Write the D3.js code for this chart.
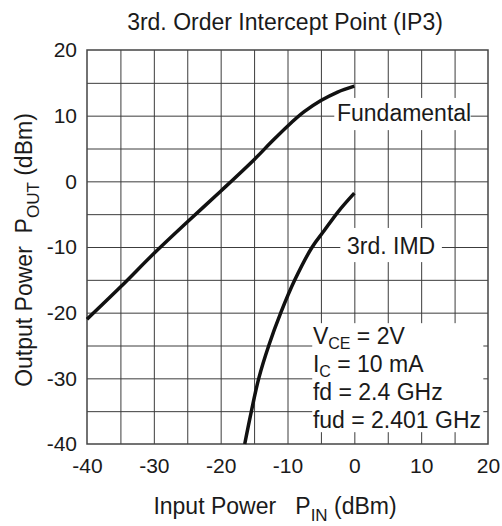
<!DOCTYPE html>
<html>
<head>
<meta charset="utf-8">
<script src="https://cdn.jsdelivr.net/npm/d3@7"></script>
<style>
  body { margin: 0; background: #fff; }
  text { font-family: "Liberation Sans", Arial, sans-serif; fill: #1a1a1a; }
</style>
</head>
<body>
<script>
// data
const fundIn  = [-40, -35, -30, -25, -20, -15, -12.5, -10, -7.5, -5, -2.5, 0];
const fundOut = [-21, -16.1, -11, -6.2, -1.5, 3.3, 5.9, 8.4, 10.6, 12.3, 13.6, 14.5];

const imdIn  = [-16.4, -15.4, -14.3, -12.8, -11.0, -8.9, -6.3, -4.5, -2.4, 0];
const imdOut = [-40, -35, -30, -25, -20, -15, -10, -7.5, -4.6, -1.8];

const xTicks = [-40, -30, -20, -10, 0, 10, 20];
const yTicks = [-40, -30, -20, -10, 0, 10, 20];
const gridStep = [-35, -30, -25, -20, -15, -10, -5, 0, 5, 10, 15];

const conditions = [
  ['V', 'CE', ' = 2V'],
  ['I', 'C', ' = 10 mA'],
  ['fd = 2.4 GHz', '', ''],
  ['fud = 2.401 GHz', '', '']
];

const W = 502, H = 526;
const plot = {left: 87, right: 488, top: 50, bottom: 444};

const svg = d3.select('body').append('svg')
  .attr('width', W)
  .attr('height', H);

const x = d3.scaleLinear().domain([-40, 20]).range([plot.left, plot.right]);
const y = d3.scaleLinear().domain([-40, 20]).range([plot.bottom, plot.top]);

// grid
svg.append('g')
  .attr('transform', `translate(0,${plot.bottom})`)
  .call(d3.axisBottom(x).tickValues(gridStep).tickSize(-(plot.bottom - plot.top)).tickFormat(''))
  .call(g => g.select('.domain').remove())
  .call(g => g.selectAll('line').attr('stroke', '#3c3c3c').attr('stroke-width', 1));

svg.append('g')
  .attr('transform', `translate(${plot.left},0)`)
  .call(d3.axisLeft(y).tickValues(gridStep).tickSize(-(plot.right - plot.left)).tickFormat(''))
  .call(g => g.select('.domain').remove())
  .call(g => g.selectAll('line').attr('stroke', '#3c3c3c').attr('stroke-width', 1));

// white boxes behind the labels
const boxes = [
  {x0: -3.0, x1: 17.4, y0: 12.7, y1: 7.8},    // Fundamental
  {x0: -2.1, x1: 13.1, y0: -7.1, y1: -12.3},  // 3rd. IMD
  {x0: -6.3, x1: 19.3, y0: -21.6, y1: -38.2}  // conditions
];
svg.selectAll('.box').data(boxes).enter()
  .append('rect')
  .attr('class', 'box')
  .attr('x', d => x(d.x0))
  .attr('y', d => y(d.y0))
  .attr('width', d => x(d.x1) - x(d.x0))
  .attr('height', d => y(d.y1) - y(d.y0))
  .attr('fill', '#fff');

// plot border
svg.append('rect')
  .attr('x', plot.left)
  .attr('y', plot.top)
  .attr('width', plot.right - plot.left)
  .attr('height', plot.bottom - plot.top)
  .attr('fill', 'none')
  .attr('stroke', '#444')
  .attr('stroke-width', 1.5);

// curves
const line = d3.line()
  .x(d => x(d[0]))
  .y(d => y(d[1]))
  .curve(d3.curveCatmullRom.alpha(0.5));

svg.append('path')
  .datum(d3.zip(fundIn, fundOut))
  .attr('d', line)
  .attr('fill', 'none')
  .attr('stroke', '#111')
  .attr('stroke-width', 3.5);

svg.append('path')
  .datum(d3.zip(imdIn, imdOut))
  .attr('d', line)
  .attr('fill', 'none')
  .attr('stroke', '#111')
  .attr('stroke-width', 3.5);

// tick labels
svg.append('g')
  .attr('transform', `translate(0,${plot.bottom})`)
  .call(d3.axisBottom(x).tickValues(xTicks).tickSize(0).tickPadding(29).tickFormat(d => String(d)))
  .call(g => g.select('.domain').remove())
  .call(g => g.selectAll('text')
    .attr('font-size', 21)
    .attr('font-family', '"Liberation Sans", Arial, sans-serif')
    .attr('fill', '#1a1a1a')
    .attr('dy', 0));

svg.append('g')
  .attr('transform', `translate(${plot.left},0)`)
  .call(d3.axisLeft(y).tickValues(yTicks).tickSize(0).tickPadding(10).tickFormat(d => String(d)))
  .call(g => g.select('.domain').remove())
  .call(g => g.selectAll('text')
    .attr('font-size', 21)
    .attr('font-family', '"Liberation Sans", Arial, sans-serif')
    .attr('fill', '#1a1a1a'));

// title
svg.append('text')
  .attr('x', 285)
  .attr('y', 30)
  .attr('text-anchor', 'middle')
  .attr('font-size', 23)
  .text('3rd. Order Intercept Point (IP3)');

// x axis title
const xt = svg.append('text')
  .attr('x', 275)
  .attr('y', 514)
  .attr('text-anchor', 'middle')
  .attr('font-size', 23);
xt.append('tspan').text('Input Power\u00a0\u00a0\u00a0P');
xt.append('tspan').attr('font-size', 17).attr('dy', 7).text('IN');
xt.append('tspan').attr('dy', -7).text(' (dBm)');

// y axis title
const yt = svg.append('text')
  .attr('transform', 'translate(32,250) rotate(-90)')
  .attr('text-anchor', 'middle')
  .attr('font-size', 23);
yt.append('tspan').text('Output Power\u00a0\u00a0P');
yt.append('tspan').attr('font-size', 17).attr('dy', 7).text('OUT');
yt.append('tspan').attr('dy', -7).text(' (dBm)');

// curve labels
svg.append('text')
  .attr('x', x(-2.6))
  .attr('y', y(9.2))
  .attr('font-size', 23)
  .text('Fundamental');

svg.append('text')
  .attr('x', x(-1.1))
  .attr('y', y(-11.1))
  .attr('font-size', 23)
  .text('3rd. IMD');

// operating conditions
const cond = svg.append('g');
conditions.forEach((c, i) => {
  const t = cond.append('text')
    .attr('x', x(-6.2))
    .attr('y', 344 + i * 28)
    .attr('font-size', 23);
  t.append('tspan').text(c[0]);
  if (c[1]) {
    t.append('tspan').attr('font-size', 16).attr('dy', 5).text(c[1]);
    t.append('tspan').attr('dy', -5).text(c[2]);
  }
});
</script>
</body>
</html>
